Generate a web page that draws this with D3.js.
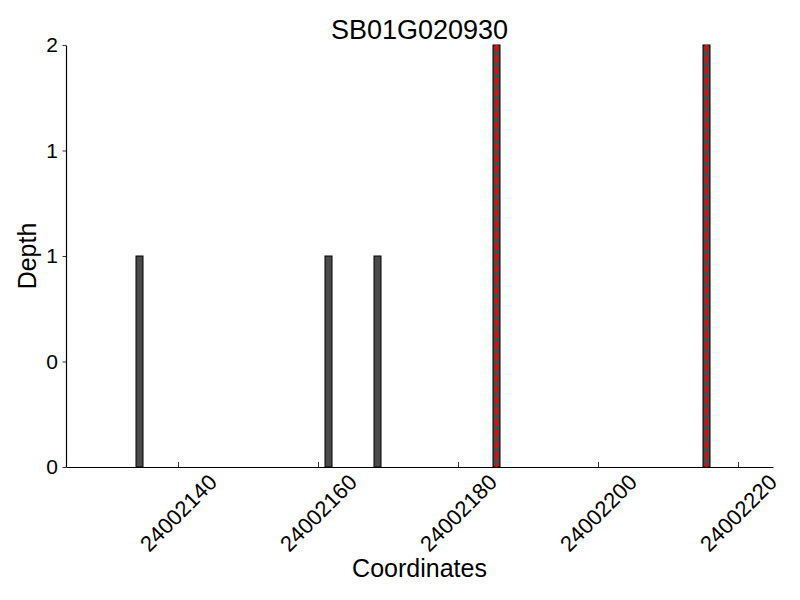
<!DOCTYPE html>
<html>
<head>
<meta charset="utf-8">
<script src="https://cdn.jsdelivr.net/npm/d3@7"></script>
<style>
  body { margin: 0; background: #fff; }
  text { font-family: "Liberation Sans", Arial, sans-serif; fill: #000; }
</style>
</head>
<body>
<svg id="chart" width="800" height="600"></svg>
<script>
const title = "SB01G020930";
const positions = [24002134, 24002161, 24002168, 24002185, 24002215];
const depths = [1, 1, 1, 2, 2];
const highlighted = [false, false, false, true, true];
const xTicks = [24002140, 24002160, 24002180, 24002200, 24002220];
const yTicks = [0, 0.5, 1, 1.5, 2];
const yTickLabels = ["0", "0", "1", "1", "2"];
const xDomain = [24002124, 24002225];
const yDomain = [0, 2];

(function () {
const svg = d3.select("#chart");
const mLeft = 66, mRight = 773, mTop = 45, mBottom = 467;

const x = d3.scaleLinear().domain(xDomain).range([mLeft, mRight]);
const y = d3.scaleLinear().domain(yDomain).range([mBottom, mTop]);

const data = positions.map((p, i) => ({ pos: p, depth: depths[i], hl: highlighted[i] }));

// bars
svg.append("g").selectAll("rect").data(data).join("rect")
  .attr("x", d => x(d.pos))
  .attr("y", d => y(d.depth))
  .attr("width", d => x(d.pos + 1) - x(d.pos))
  .attr("height", d => y(0) - y(d.depth))
  .attr("fill", "#4a4a4a")
  .attr("stroke", "#000")
  .attr("stroke-width", 1);

// red dashed lines
svg.append("g").selectAll("line").data(data.filter(d => d.hl)).join("line")
  .attr("x1", d => x(d.pos + 0.5))
  .attr("x2", d => x(d.pos + 0.5))
  .attr("y1", d => y(d.depth))
  .attr("y2", y(0))
  .attr("stroke", "#ff0000")
  .attr("stroke-width", 2.6)
  .attr("stroke-dasharray", "7,4");

// x axis
const xAxis = d3.axisBottom(x).tickValues(xTicks).tickSizeInner(-5).tickSizeOuter(0).tickFormat(d3.format("d"));
const gx = svg.append("g").attr("transform", `translate(0,${mBottom})`).call(xAxis);
gx.attr("font-size", 22).attr("font-family", "Liberation Sans, Arial, sans-serif");
gx.select(".domain").attr("stroke", "#000").attr("stroke-width", 1.2);
gx.selectAll(".tick line").attr("stroke", "#000").attr("stroke-width", 0.8);
gx.selectAll(".tick text")
  .attr("font-size", 22)
  .attr("text-anchor", "middle")
  .attr("dominant-baseline", "central")
  .attr("y", 0).attr("dy", 0)
  .attr("transform", "translate(0,46) rotate(-45)");

// y axis
const yAxis = d3.axisLeft(y).tickValues(yTicks).tickSizeInner(3.5).tickSizeOuter(0)
  .tickFormat((d, i) => yTickLabels[i]);
const gy = svg.append("g").attr("transform", `translate(${mLeft},0)`).call(yAxis);
gy.attr("font-size", 21).attr("font-family", "Liberation Sans, Arial, sans-serif");
gy.select(".domain").attr("stroke", "#000").attr("stroke-width", 1.2);
gy.selectAll(".tick line").attr("stroke", "#000").attr("stroke-width", 0.8);
gy.selectAll(".tick text")
  .attr("font-size", 21)
  .attr("x", -8);

// title
svg.append("text").attr("x", (mLeft + mRight) / 2).attr("y", 39)
  .attr("text-anchor", "middle").attr("font-size", 27).text(title);

// axis labels
svg.append("text").attr("x", (mLeft + mRight) / 2).attr("y", 577)
  .attr("text-anchor", "middle").attr("font-size", 25).text("Coordinates");
svg.append("text")
  .attr("transform", `translate(36,${(mTop + mBottom) / 2}) rotate(-90)`)
  .attr("text-anchor", "middle").attr("font-size", 25).text("Depth");
})();
</script>
</body>
</html>
